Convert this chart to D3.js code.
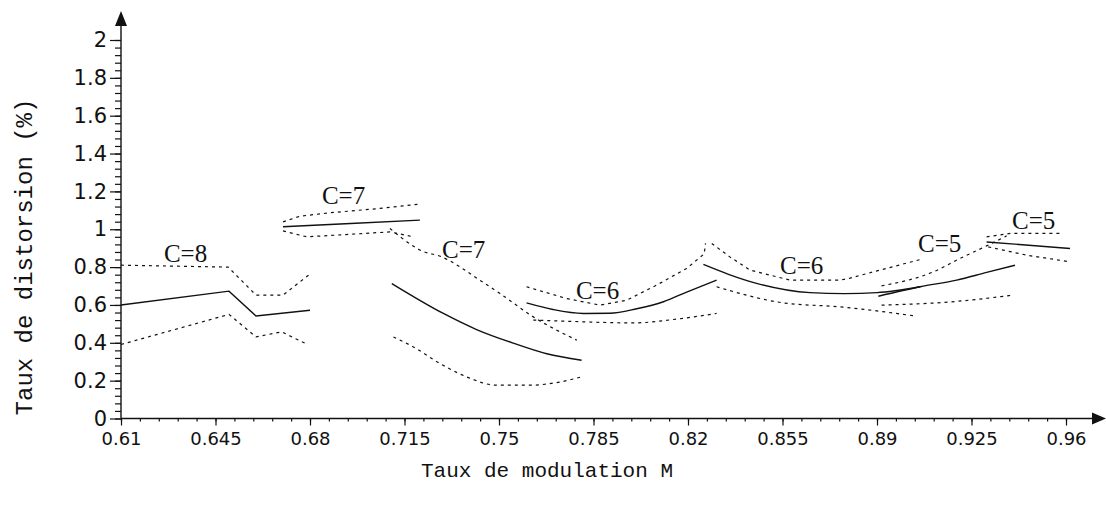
<!DOCTYPE html>
<html><head><meta charset="utf-8">
<script src="https://cdn.jsdelivr.net/npm/d3@7"></script>
<style>body{margin:0;background:#fff}svg{display:block}</style>
</head><body>
<svg id="chart" width="1106" height="511"></svg>
<script>
// ---- data (M, distortion %) ----
const xTicks = [0.61, 0.645, 0.68, 0.715, 0.75, 0.785, 0.82, 0.855, 0.89, 0.925, 0.96];
const xTickLabels = ["0.61","0.645","0.68","0.715","0.75","0.785","0.82","0.855","0.89","0.925","0.96"];
const yTicks = [0, 0.2, 0.4, 0.6, 0.8, 1, 1.2, 1.4, 1.6, 1.8, 2];
const yTickLabels = ["0","0.2","0.4","0.6","0.8","1","1.2","1.4","1.6","1.8","2"];

const c8Mean  = [[0.61,0.60],[0.650,0.673],[0.660,0.542],[0.680,0.572]];
const c8Upper = [[0.61,0.81],[0.6497,0.80],[0.660,0.652],[0.670,0.652],[0.6806,0.77]];
const c8Lower = [[0.61,0.391],[0.650,0.55],[0.660,0.431],[0.6695,0.458],[0.6788,0.393]];

const c7aMean  = [[0.670,1.013],[0.695,1.03],[0.7207,1.048]];
const c7aUpper = [[0.670,1.039],[0.6763,1.069],[0.6874,1.087],[0.7059,1.11],[0.7207,1.133]];
const c7aLower = [[0.670,0.991],[0.6788,0.96],[0.6897,0.969],[0.7096,0.986],[0.7183,0.96]];

const c7bMean  = [[0.7103,0.713],[0.7294,0.555],[0.7417,0.47],[0.7553,0.398],[0.7677,0.342],[0.7806,0.308]];
const c7bUpper = [[0.7096,1.004],[0.7177,0.916],[0.7207,0.89],[0.7288,0.854],[0.743,0.73],[0.7504,0.66],[0.7627,0.537],[0.7788,0.414]];
const c7bLower = [[0.7109,0.431],[0.7183,0.378],[0.7281,0.291],[0.738,0.22],[0.7491,0.176],[0.7615,0.176],[0.7726,0.193],[0.7806,0.22]];

const c6aMean  = [[0.7602,0.611],[0.77,0.576],[0.7812,0.555],[0.7911,0.556],[0.801,0.58],[0.8109,0.617],[0.8195,0.668],[0.8306,0.731]];
const c6aUpper = [[0.7602,0.696],[0.775,0.634],[0.7874,0.599],[0.7973,0.625],[0.8084,0.705],[0.8195,0.793],[0.826,0.87],[0.8265,0.925]];
const c6aLower = [[0.7627,0.52],[0.775,0.514],[0.7997,0.505],[0.8146,0.523],[0.8306,0.555]];

const c6bMean  = [[0.8257,0.814],[0.835,0.762],[0.8454,0.714],[0.8652,0.665],[0.878,0.66],[0.89,0.665],[0.906,0.696]];
const c6bUpper = [[0.8288,0.925],[0.8355,0.854],[0.843,0.784],[0.8578,0.731],[0.8763,0.731],[0.88,0.742],[0.8911,0.784],[0.906,0.84]];
const c6bLower = [[0.8306,0.696],[0.8553,0.611],[0.8763,0.59],[0.904,0.542]];

const c5aMean  = [[0.8905,0.646],[0.906,0.696],[0.9195,0.731],[0.9306,0.772],[0.9411,0.81]];
const c5aUpper = [[0.8917,0.701],[0.9109,0.775],[0.9208,0.846],[0.9306,0.912],[0.938,0.965]];
const c5aLower = [[0.8917,0.599],[0.917,0.616],[0.9405,0.652]];

const c5bMean  = [[0.9306,0.933],[0.9615,0.898]];
const c5bUpper = [[0.9306,0.96],[0.9394,0.978],[0.959,0.978]];
const c5bLower = [[0.9312,0.907],[0.9454,0.863],[0.9615,0.828]];

const labelTexts = ["C=8","C=7","C=7","C=6","C=6","C=5","C=5"];
const labelM     = [0.6259, 0.6844, 0.7289, 0.7785, 0.8541, 0.9052, 0.940];
const labelD     = [0.826, 1.133, 0.847, 0.631, 0.764, 0.879, 1.0];

// ---- drawing ----
const svg = d3.select("#chart");
const x = d3.scaleLinear().domain([0.61, 0.96]).range([121, 1066]);
const y = d3.scaleLinear().domain([0, 2]).range([418.5, 40]);
const y0 = y(0), x0 = x(0.61);

const smoothSeries = [c7bMean,c7bUpper,c7bLower,c6aMean,c6aLower,c6bMean,c6bLower,c5aMean,c5aUpper,c5aLower];
const meanSeries = [c8Mean,c7aMean,c7bMean,c6aMean,c6bMean,c5aMean,c5bMean];
const bandSeries = [c8Upper,c8Lower,c7aUpper,c7aLower,c7bUpper,c7bLower,c6aUpper,c6aLower,c6bUpper,c6bLower,c5aUpper,c5aLower,c5bUpper,c5bLower];

const lineLin = d3.line().x(d => x(d[0])).y(d => y(d[1]));
const lineSm = d3.line().x(d => x(d[0])).y(d => y(d[1])).curve(d3.curveMonotoneX);
const pathFor = s => (smoothSeries.includes(s) ? lineSm : lineLin)(s);

svg.append("g").selectAll("path").data(bandSeries).join("path")
  .attr("d", pathFor).attr("fill","none").attr("stroke","#111")
  .attr("stroke-width",1.2).attr("stroke-dasharray","3,4");
svg.append("g").selectAll("path").data(meanSeries).join("path")
  .attr("d", pathFor).attr("fill","none").attr("stroke","#111").attr("stroke-width",1.4);

// x axis
const minorX = d3.range(0, 51).map(i => 0.61 + i*0.007);
const gx = svg.append("g").attr("transform",`translate(0,${y0})`);
gx.call(d3.axisBottom(x).tickValues(minorX).tickSize(3).tickFormat(""));
gx.select(".domain").remove();
const gx2 = svg.append("g").attr("transform",`translate(0,${y0})`);
gx2.call(d3.axisBottom(x).tickValues(xTicks).tickSize(7).tickPadding(7)
  .tickFormat((d,i) => xTickLabels[i]));
gx2.select(".domain").remove();
gx2.selectAll("text").style("font-family","DejaVu Sans").style("font-size","18px").attr("fill","#111");
svg.selectAll(".tick line").attr("stroke","#111").attr("stroke-width",1.2);
svg.append("line").attr("x1",x0).attr("x2",1095).attr("y1",y0).attr("y2",y0)
  .attr("stroke","#111").attr("stroke-width",1.4);
svg.append("path").attr("d",`M1092,${y0-6}L1106,${y0}L1092,${y0+6}Z`).attr("fill","#111");

// y axis
const minorY = d3.range(0, 51).map(i => i*0.04);
const gy = svg.append("g").attr("transform",`translate(${x0},0)`);
gy.call(d3.axisLeft(y).tickValues(minorY).tickSize(6).tickFormat(""));
gy.select(".domain").remove();
const gy2 = svg.append("g").attr("transform",`translate(${x0},0)`);
gy2.call(d3.axisLeft(y).tickValues(yTicks).tickSize(11).tickPadding(3)
  .tickFormat((d,i) => yTickLabels[i]));
gy2.select(".domain").remove();
gy2.selectAll("text").style("font-family","DejaVu Sans").style("font-size","21px").attr("fill","#111");
svg.selectAll(".tick line").attr("stroke","#111").attr("stroke-width",1.2);
svg.append("line").attr("x1",x0).attr("x2",x0).attr("y1",y0).attr("y2",22)
  .attr("stroke","#111").attr("stroke-width",1.4);
svg.append("path").attr("d",`M${x0-6},26L${x0},11L${x0+6},26Z`).attr("fill","#111");

// axis titles
svg.append("text").attr("x",547).attr("y",477).attr("text-anchor","middle")
  .style("font-family","Liberation Mono").style("font-size","21px").attr("fill","#111")
  .text("Taux de modulation M");
svg.append("text").attr("transform","translate(32,257) rotate(-90)").attr("text-anchor","middle")
  .style("font-family","Liberation Mono").style("font-size","24px").attr("fill","#111")
  .text("Taux de distorsion (%)");

// curve labels
svg.append("g").selectAll("text").data(labelTexts).join("text")
  .attr("x",(d,i)=>x(labelM[i])).attr("y",(d,i)=>y(labelD[i]))
  .style("font-family","Liberation Serif").style("font-size","25px").attr("fill","#111")
  .text(d=>d);
</script>
</body></html>
